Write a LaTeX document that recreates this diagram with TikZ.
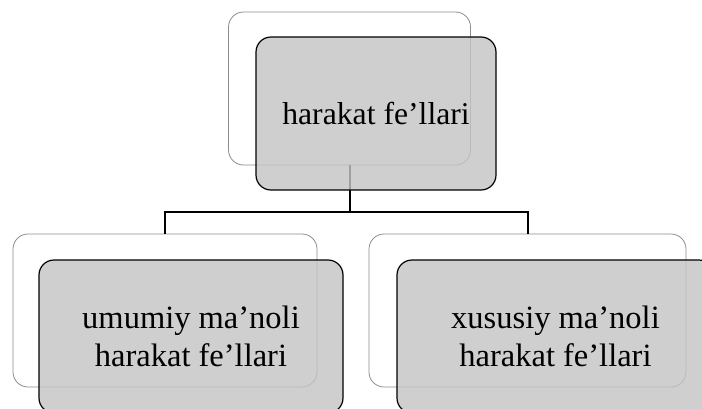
\documentclass[tikz,border=0pt]{standalone}
\usepackage{fontspec}
\setmainfont{Liberation Serif}
\begin{document}
\begin{tikzpicture}[x=1pt,y=-1pt,
  back/.style={draw=black!45,fill=white,rounded corners=15pt,minimum height=153pt,line width=0.8pt},
  front/.style={draw=black,line width=1.2pt,fill=black!23,fill opacity=0.81,text opacity=1,
    rounded corners=15pt,minimum height=153pt,align=center}]
\useasboundingbox (0,0) rectangle (702,408);

\node[back,minimum width=242pt] (topback) at (349.5,88.5) {};
\node[back,minimum width=304pt] (leftback) at (165,310.5) {};
\node[back,minimum width=317pt] (rightback) at (527.5,310.5) {};

\coordinate (bus) at (349.5,212);
\draw[line width=2pt] (topback.south) -- (bus) -| (leftback.north);
\draw[line width=2pt] (bus) -| (rightback.north);

\node[front,minimum width=240pt,font=\fontsize{31.7pt}{38pt}\selectfont] (top) at (376,113.5) {harakat fe’llari};
\node[front,minimum width=304pt,font=\fontsize{32.5pt}{38pt}\selectfont] (left) at (191,336.5) {umumiy ma’noli\\harakat fe’llari};
\node[front,minimum width=317pt,font=\fontsize{32.5pt}{38pt}\selectfont] (right) at (555.5,336.5) {xususiy ma’noli\\harakat fe’llari};
\end{tikzpicture}
\end{document}
